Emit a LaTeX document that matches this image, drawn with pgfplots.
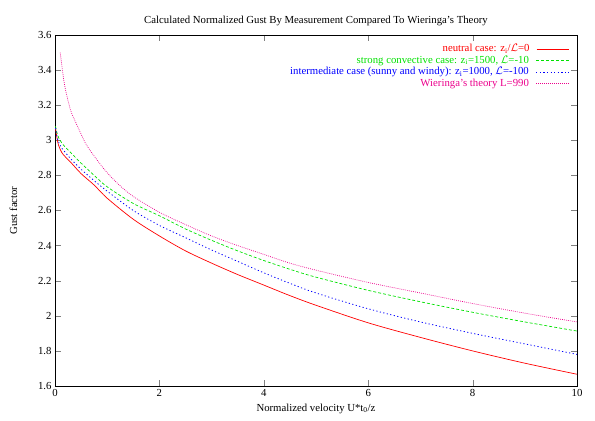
\documentclass[border=0pt]{standalone}
\usepackage{pgfplots}
\pgfplotsset{compat=1.18}
\usepackage{fontspec}
\setmainfont{Liberation Serif}
\definecolor{gpgreen}{RGB}{0,225,0}
\definecolor{gpred}{RGB}{255,0,0}

\pgfplotstableread{
x     y
0.01  3.07
0.04  3.01
0.07  2.97
0.13  2.93
0.2   2.905
0.3   2.875
0.5   2.81
0.75  2.745
1     2.67
1.5   2.55
2     2.455
2.5   2.37
3     2.30
3.5   2.235
4     2.175
4.5   2.115
5     2.06
6     1.96
7     1.877
8     1.80
9     1.73
10    1.667
}\neutral

\pgfplotstableread{
x     y
0.01  3.08
0.04  3.04
0.07  3.015
0.13  2.985
0.2   2.96
0.3   2.93
0.5   2.87
0.75  2.80
1     2.735
1.5   2.64
2     2.57
2.5   2.495
3     2.43
3.5   2.37
4     2.315
4.5   2.265
5     2.22
6     2.145
7     2.08
8     2.02
9     1.965
10    1.913
}\convective

\pgfplotstableread{
x     y
0.01  3.07
0.04  3.02
0.07  2.99
0.13  2.955
0.2   2.93
0.3   2.895
0.5   2.835
0.75  2.77
1     2.71
1.5   2.60
2     2.515
2.5   2.445
3     2.375
3.5   2.31
4     2.245
4.5   2.185
5     2.13
6     2.04
7     1.965
8     1.90
9     1.84
10    1.78
}\intermediate

\pgfplotstableread{
x     y
0.1   3.50
0.15  3.38
0.2   3.29
0.3   3.17
0.4   3.10
0.5   3.035
0.6   2.975
0.8   2.89
1     2.815
1.25  2.74
1.5   2.68
2     2.59
2.5   2.52
3     2.455
3.5   2.40
4     2.35
4.5   2.30
5     2.26
6     2.19
7     2.13
8     2.07
9     2.015
10    1.965
}\wieringa

% legend samples drawn inline after the entry text
\newcommand{\sample}[2]{\hspace{7bp}{\color{#1}\tikz[baseline=-0.55ex]\draw[draw=#1, #2] (0,0) -- (1.15cm,0);}}
\newcommand{\solidsample}[1]{\hspace{7bp}{\color{#1}\rule[0.45ex]{1.15cm}{0.7pt}}}

\begin{document}
\begin{tikzpicture}
\begin{axis}[
    name=ax,
    scale only axis,
    width=522bp, height=351bp,
    xmin=0, xmax=10, ymin=1.6, ymax=3.6,
    xtick={0,2,...,10},
    ytick={1.6,1.8,...,3.6},
    major tick length=6bp,
    /pgf/number format/assume math mode=true,
    font=\fontsize{10.8}{12}\selectfont,
    title={Calculated Normalized Gust By Measurement Compared To Wieringa's Theory},
    xlabel={Normalized velocity U*t\textsubscript{0}/z},
    ylabel={Gust factor},
    ylabel shift=14bp,
    legend plot pos=none,
    legend cell align=right,
    legend style={draw=none, fill=none, at={(0.995,0.985)}, anchor=north east,
        row sep=-1.5pt},
]
\addplot[gpred, line width=0.7pt, smooth] table[x=x, y=y] {\neutral};
\addlegendentry[text=gpred]{neutral case: z\textsubscript{i}/$\mathcal{L}$=0\solidsample{gpred}}
\addplot[gpgreen, line width=0.7pt, smooth, dash pattern=on 3pt off 2pt] table[x=x, y=y] {\convective};
\addlegendentry[text=gpgreen]{strong convective case: z\textsubscript{i}=1500, $\mathcal{L}$=-10\sample{gpgreen}{line width=0.7pt, dash pattern=on 3pt off 2pt}}
\addplot[blue, line width=0.8pt, smooth, dash pattern=on 1.2pt off 2.4pt] table[x=x, y=y] {\intermediate};
\addlegendentry[text=blue]{intermediate case (sunny and windy): z\textsubscript{i}=1000, $\mathcal{L}$=-100\sample{blue}{line width=0.8pt, dash pattern=on 1.2pt off 2.4pt}}
\addplot[magenta, line width=0.7pt, smooth, dash pattern=on 0.8pt off 1.2pt] table[x=x, y=y] {\wieringa};
\addlegendentry[text=magenta]{Wieringa's theory L=990\sample{magenta}{line width=0.7pt, dash pattern=on 0.8pt off 1.2pt}}
\end{axis}
\pgfresetboundingbox
\path ([shift={(-55bp,-35bp)}]ax.south west) rectangle ([shift={(18bp,35bp)}]ax.north east);
\end{tikzpicture}
\end{document}
